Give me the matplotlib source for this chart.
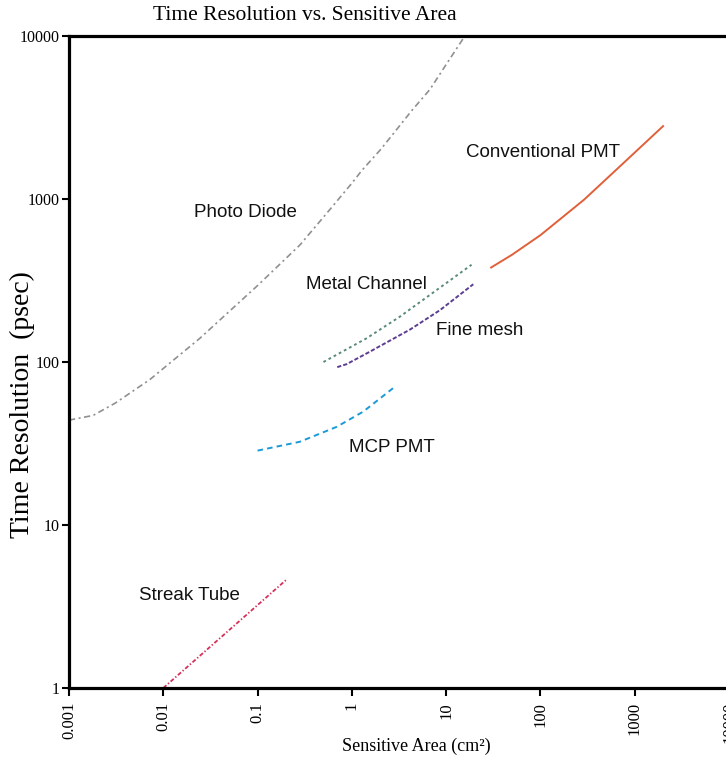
import matplotlib
matplotlib.use('Agg')
import matplotlib.pyplot as plt

# data (log-log)
pd_x = [0.001, 0.0018, 0.0031, 0.0072, 0.0245, 0.101, 0.281, 0.58, 1.0, 1.28, 2.0, 2.73, 4.34, 6.73, 10.2, 15.8]
pd_y = [44, 47, 56, 78, 140, 296, 522, 857, 1250, 1500, 2000, 2500, 3500, 4700, 6800, 10000]

cpmt_x = [30, 50, 100, 290, 750, 2000]
cpmt_y = [380, 455, 600, 990, 1650, 2800]

mc_x = [0.5, 1.44, 3.24, 18.6]
mc_y = [100, 140, 190, 395]

fm_x = [0.7, 0.88, 1.44, 4.13, 8.6, 19.4]
fm_y = [93, 97, 113, 158, 208, 300]

mcp_x = [0.1, 0.28, 0.69, 1.32, 2.86]
mcp_y = [28.6, 32.4, 40, 49.6, 70.5]

st_x = [0.01, 0.055, 0.204]
st_y = [1, 2.38, 4.64]

x_ticks = [0.001, 0.01, 0.1, 1, 10, 100, 1000, 10000]
x_tick_labels = ['0.001', '0.01', '0.1', '1', '10', '100', '1000', '10000']
y_ticks = [1, 10, 100, 1000, 10000]
y_tick_labels = ['1', '10', '100', '1000', '10000']

plt.rcParams['lines.scale_dashes'] = False
serif = 'Liberation Serif'
sans = 'Liberation Sans'

W, H = 726, 762
fig = plt.figure(figsize=(W / 100, H / 100), dpi=100)
ax = fig.add_axes([69 / W, 1 - 688 / H, 660 / W, 652 / H])
ax.set_xscale('log')
ax.set_yscale('log')
ax.set_xlim(0.001, 10000)
ax.set_ylim(1, 10000)

ax.plot(pd_x, pd_y, color='#909090', lw=1.2, linestyle=(0, (4.5, 2.5, 1.5, 2.5)))
ax.plot(cpmt_x, cpmt_y, color='#e0603a', lw=1.4)
ax.plot(mc_x, mc_y, color='#5b8a7c', lw=1.4, linestyle=(0, (2, 2.2)))
ax.plot(fm_x, fm_y, color='#5c3d92', lw=1.4, linestyle=(0, (3, 1.5)))
ax.plot(mcp_x, mcp_y, color='#1a9ad6', lw=1.4, linestyle=(0, (4, 3)))
ax.plot(st_x, st_y, color='#d6305a', lw=1.3, linestyle=(0, (3, 1.5, 1, 1.5)))

lab = dict(family=sans, fontsize=13.5, ha='center', va='center', color='#111111')
ax.text(0.0735, 821, 'Photo Diode', **lab)
ax.text(106, 1942, 'Conventional PMT', **lab)
ax.text(1.445, 297, 'Metal Channel', **lab)
ax.text(22.8, 155, 'Fine mesh', **lab)
ax.text(2.66, 29.7, 'MCP PMT', **lab)
ax.text(0.0188, 3.67, 'Streak Tube', **lab)

ax.minorticks_off()
ax.set_xticks(x_ticks)
ax.set_xticklabels(x_tick_labels, rotation=90, family=serif, fontsize=12)
ax.set_yticks(y_ticks)
ax.set_yticklabels(y_tick_labels, family=serif, fontsize=11.5)
ax.tick_params(axis='x', length=6, width=1.5, pad=4)
ax.tick_params(axis='y', length=5, width=1.5, pad=2)

for s in ['left', 'bottom', 'top']:
    ax.spines[s].set_linewidth(2.3)
ax.spines['right'].set_visible(False)

ax.set_xlabel('Sensitive Area (cm²)', family=serif, fontsize=13, va='center')
ax.xaxis.set_label_coords((416 - 69) / 660, (688 - 746) / 652)
ax.set_ylabel('Time Resolution  (psec)', family=serif, fontsize=20, va='center')
ax.yaxis.set_label_coords((22 - 69) / 660, (688 - 405) / 652)

fig.text(305 / W, 1 - 15 / H, 'Time Resolution vs. Sensitive Area', family=serif,
         fontsize=15.5, ha='center', va='center')

fig.savefig('out.png', dpi=100)
